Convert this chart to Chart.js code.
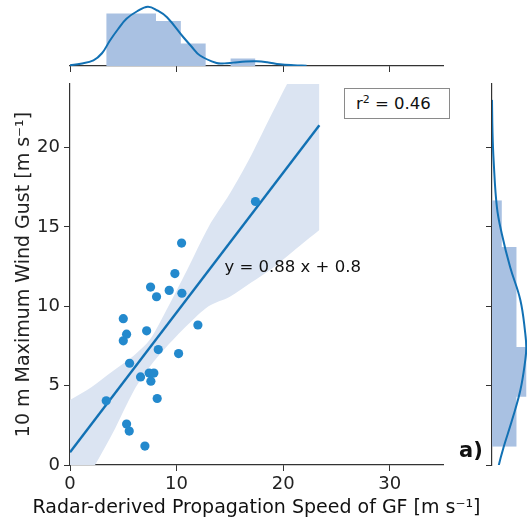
<!DOCTYPE html>
<html>
<head>
<meta charset="utf-8">
<script src="https://cdn.jsdelivr.net/npm/chart.js@4.4.1/dist/chart.umd.min.js"></script>
<style>
  html, body { margin: 0; padding: 0; background: #fff; }
  #wrap { position: relative; width: 527px; height: 519px; font-family: "DejaVu Sans", sans-serif; }
  #wrap canvas { position: absolute; left: 0; top: 0; }
  #r2box {
    position: absolute; left: 344px; top: 88px; width: 106px; height: 31px;
    border: 1px solid #8a8a8a; background: #fff;
    font-size: 16.5px; line-height: 30px; padding-left: 11px; box-sizing: border-box; color: #111;
  }
  #r2box sup { font-size: 11px; vertical-align: 6px; line-height: 0; }
  #panel { position: absolute; left: 459px; top: 438px; font-size: 21px; font-weight: bold; color: #111; }
</style>
</head>
<body>
<div id="wrap">
  <canvas id="mainChart" width="527" height="519"></canvas>
  <canvas id="topChart" width="527" height="519"></canvas>
  <canvas id="rightChart" width="527" height="519"></canvas>
  <div id="r2box">r<sup>2</sup> = 0.46</div>
  <div id="panel">a)</div>
</div>
<script>
// --- data ---
// scatter: radar-derived GF propagation speed vs 10 m max wind gust
const gfSpeed = [3.4, 5.0, 5.0, 5.31, 5.31, 5.56, 5.59, 6.62, 7.03, 7.19, 7.43, 7.56,
                 7.59, 7.87, 8.12, 8.18, 8.28, 9.31, 9.84, 10.19, 10.47, 10.5, 12.0, 17.4];
const windGust = [4.04, 9.22, 7.82, 8.24, 2.58, 2.14, 6.41, 5.55, 1.19, 8.45, 5.79, 11.21,
                  5.28, 5.79, 10.6, 4.19, 7.27, 11.0, 12.06, 7.02, 13.98, 10.82, 8.82, 16.6];

// regression line end points (y = 0.88 x + 0.8)
const fitX = [0, 23.4];
const fitY = [0.8, 21.4];

// confidence band edges
const bandX = [0, 2, 4, 6, 7.5, 9, 11, 13, 15, 17, 19, 21, 23.4];
const bandUpper = [4.1, 4.9, 5.9, 6.9, 7.9, 9.7, 12.3, 15.0, 17.1, 19.5, 22.2, 24.8, 27.6];
const bandLower = [-2.5, -0.4, 2.0, 4.7, 6.2, 7.4, 8.8, 10.0, 10.6, 11.5, 12.4, 13.5, 14.8];

// top marginal (x) histogram + kde
const xBinEdges = [3.4, 5.73, 8.07, 10.4, 12.73, 15.07, 17.4];
const xBinCounts = [7, 7, 6, 3, 0, 1];
const xKdeX = [0, 1, 2.2, 3, 3.75, 4.5, 5.3, 6.3, 7.3, 8.2, 9.1, 10.6, 11.4, 12.2, 13.75, 14.5, 15.3, 16.5, 17.5, 18.5, 19.7, 21, 22.2];
const xKdeY = [0.09, 0.3, 0.76, 1.7, 3.4, 4.9, 6.3, 7.3, 7.9, 7.4, 6.5, 3.9, 2.6, 1.4, 0.4, 0.35, 0.45, 0.6, 0.63, 0.5, 0.23, 0.1, 0.04];

// right marginal (y) histogram + kde
const yBinEdges = [1.15, 4.3, 7.44, 10.58, 13.73, 16.67];
const yBinCounts = [5, 7, 5, 5, 2];
const yKdeY = [-0.5, 0, 1.15, 2.83, 4.72, 6.6, 7.4, 8.28, 10.38, 12.47, 14.57, 16.25, 19.2, 21, 23];
const yKdeX = [1.2, 1.4, 2.4, 4.1, 5.8, 6.8, 7.0, 6.8, 5.8, 3.7, 2.0, 1.0, 0.33, 0.1, 0];

const xTitle = 'Radar-derived Propagation Speed of GF [m s\u207B\u00B9]';
const yTitle = '10 m Maximum Wind Gust [m s\u207B\u00B9]';
const eqText = 'y = 0.88 x + 0.8';
const eqAt = { x: 14.5, y: 12.45 };

// --- style ---
const FONT = '"DejaVu Sans", sans-serif';
const lineBlue = '#1271b4';
const dotBlue = '#2389cd';
const bandFill = '#dbe4f2';
const histFill = '#a9c1e2';
const axisCol = '#333';

Chart.defaults.font.family = FONT;
Chart.defaults.color = '#222';

const zip = (a, b) => a.map((v, i) => ({ x: v, y: b[i] }));

// histogram as a stepped outline
function stepsX(edges, counts) {
  const pts = counts.map((c, i) => ({ x: edges[i], y: c }));
  pts.push({ x: edges[edges.length - 1], y: counts[counts.length - 1] });
  return pts;
}
function stepsY(edges, counts) {
  const pts = counts.map((c, i) => ({ x: c, y: edges[i] }));
  pts.push({ x: counts[counts.length - 1], y: edges[edges.length - 1] });
  return pts;
}

// equation text + x title (the built-in title gets squeezed to the axis width)
const extraText = {
  id: 'extraText',
  afterDraw(chart) {
    const { ctx, scales, chartArea } = chart;
    ctx.save();
    ctx.fillStyle = '#111';
    ctx.textBaseline = 'middle';
    ctx.font = '16.5px ' + FONT;
    ctx.fillText(eqText, scales.x.getPixelForValue(eqAt.x), scales.y.getPixelForValue(eqAt.y));
    ctx.font = '19px ' + FONT;
    ctx.textAlign = 'center';
    ctx.fillText(xTitle, (chartArea.left + chartArea.right) / 2, chart.height - 11);
    ctx.restore();
  }
};

const common = {
  responsive: false,
  animation: false,
  events: [],
  plugins: { legend: { display: false }, tooltip: { enabled: false } }
};

// main scatter + regression
new Chart(document.getElementById('mainChart'), {
  type: 'scatter',
  data: {
    datasets: [
      { type: 'scatter', data: zip(gfSpeed, windGust), backgroundColor: dotBlue, borderWidth: 0, pointRadius: 4.6, order: 0 },
      { type: 'line', data: zip(fitX, fitY), borderColor: lineBlue, borderWidth: 2.4, pointRadius: 0, order: 1 },
      { type: 'line', data: zip(bandX, bandLower), borderWidth: 0, borderColor: 'rgba(0,0,0,0)', pointRadius: 0, tension: 0.3, order: 2 },
      { type: 'line', data: zip(bandX, bandUpper), borderWidth: 0, borderColor: 'rgba(0,0,0,0)', pointRadius: 0, tension: 0.3,
        fill: '-1', backgroundColor: bandFill, order: 2 }
    ]
  },
  options: {
    ...common,
    layout: { padding: { left: 0, right: 84, top: 84, bottom: 0 } },
    scales: {
      x: {
        type: 'linear', min: 0, max: 35,
        ticks: { stepSize: 10, includeBounds: false, padding: 3, font: { size: 18 } },
        grid: { drawOnChartArea: false, tickLength: 6, color: axisCol },
        border: { color: axisCol, width: 1.2 },
        afterFit(s) { s.height = 54; }
      },
      y: {
        type: 'linear', min: 0, max: 24,
        ticks: { stepSize: 5, includeBounds: false, padding: 4, font: { size: 18 } },
        grid: { drawOnChartArea: false, tickLength: 6, color: axisCol },
        border: { color: axisCol, width: 1.2 },
        title: { display: true, text: yTitle, font: { size: 19 }, padding: { top: 13, bottom: 0 } },
        afterFit(s) { s.width = 70; }
      }
    }
  },
  plugins: [extraText]
});

// top marginal
new Chart(document.getElementById('topChart'), {
  type: 'line',
  data: {
    datasets: [
      { data: zip(xKdeX, xKdeY), borderColor: lineBlue, borderWidth: 2, pointRadius: 0, tension: 0.4, order: 0 },
      { data: stepsX(xBinEdges, xBinCounts), stepped: true, borderWidth: 0, borderColor: 'rgba(0,0,0,0)', pointRadius: 0,
        fill: 'origin', backgroundColor: histFill, order: 1 }
    ]
  },
  options: {
    ...common,
    layout: { padding: { left: 70, right: 84, top: 0, bottom: 445 } },
    scales: {
      x: {
        type: 'linear', min: 0, max: 35,
        ticks: { display: false, stepSize: 10, includeBounds: false },
        grid: { drawOnChartArea: false, tickLength: 6, color: axisCol },
        border: { color: axisCol, width: 1.2 },
        afterFit(s) { s.height = 8; }
      },
      y: { type: 'linear', display: false, min: 0, max: 8.8 }
    }
  }
});

// right marginal
new Chart(document.getElementById('rightChart'), {
  type: 'line',
  data: {
    datasets: [
      { data: zip(yKdeX, yKdeY), borderColor: lineBlue, borderWidth: 2, pointRadius: 0, tension: 0.4, order: 0 },
      { data: stepsY(yBinEdges, yBinCounts), stepped: 'after', borderWidth: 0, borderColor: 'rgba(0,0,0,0)', pointRadius: 0,
        fill: 'origin', backgroundColor: histFill, order: 1 }
    ]
  },
  options: {
    ...common,
    indexAxis: 'y',
    layout: { padding: { left: 484, right: 0, top: 84, bottom: 54 } },
    scales: {
      x: { type: 'linear', display: false, min: 0, max: 7.15 },
      y: {
        type: 'linear', position: 'left', min: 0, max: 24,
        ticks: { display: false, stepSize: 5, includeBounds: false },
        grid: { drawOnChartArea: false, tickLength: 6, color: axisCol },
        border: { color: axisCol, width: 1.2 },
        afterFit(s) { s.width = 8; }
      }
    }
  }
});
</script>
</body>
</html>
